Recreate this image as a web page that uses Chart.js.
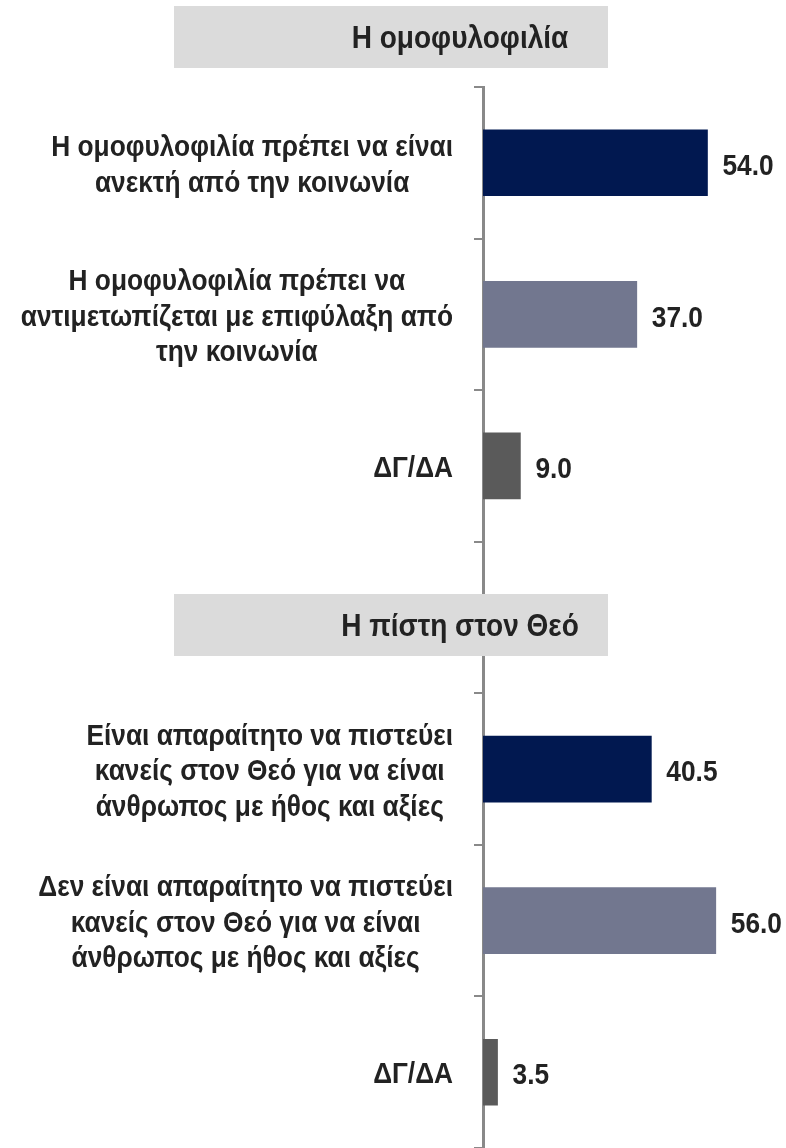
<!DOCTYPE html>
<html><head><meta charset="utf-8">
<script src="https://cdn.jsdelivr.net/npm/chart.js@4.4.0/dist/chart.umd.min.js"></script>
<style>html,body{margin:0;padding:0;background:#fff;}#wrap{position:relative;width:786px;height:1148px;}</style>
</head><body><div id="wrap"><canvas id="c" width="786" height="1148"></canvas></div>
<script>
const headers = ['Η ομοφυλοφιλία', 'Η πίστη στον Θεό'];
const categories = [
  ['Η ομοφυλοφιλία πρέπει να είναι', 'ανεκτή από την κοινωνία'],
  ['Η ομοφυλοφιλία πρέπει να', 'αντιμετωπίζεται με επιφύλαξη από', 'την κοινωνία'],
  ['ΔΓ/ΔΑ'],
  [''],
  ['Είναι απαραίτητο να πιστεύει', 'κανείς στον Θεό για να είναι', 'άνθρωπος με ήθος και αξίες'],
  ['Δεν είναι απαραίτητο να πιστεύει', 'κανείς στον Θεό για να είναι', 'άνθρωπος με ήθος και αξίες'],
  ['ΔΓ/ΔΑ']
];
const values = [54.0, 37.0, 9.0, null, 40.5, 56.0, 3.5];
const barColors = ['#011850', '#72778F', '#5A5A5A', '#FFFFFF', '#011850', '#72778F', '#5A5A5A'];

const FONT = '"Liberation Sans", Arial, sans-serif';
const SX = 0.876;
const TXT = '#222222';
const DY = 3;

function drawText(ctx, str, cx, cy, align, size) {
  ctx.save();
  ctx.font = 'bold ' + size + 'px ' + FONT;
  ctx.fillStyle = TXT;
  ctx.textBaseline = 'middle';
  ctx.textAlign = align;
  ctx.translate(cx, cy + DY);
  ctx.scale(SX, 1);
  ctx.fillText(str, 0, 0);
  ctx.restore();
}
function textW(ctx, str, size) {
  ctx.save();
  ctx.font = 'bold ' + size + 'px ' + FONT;
  const w = ctx.measureText(str).width * SX;
  ctx.restore();
  return w;
}

const textPlugin = {
  id: 'texts',
  afterDraw(chart) {
    const ctx = chart.ctx;
    const ys = chart.scales.y;
    const labelSize = 30, lineH = 35.5, right = 453;
    categories.forEach((lines, i) => {
      const cy = ys.getPixelForValue(i);
      const maxW = Math.max(...lines.map(l => textW(ctx, l, labelSize)));
      const cx = right - maxW / 2;
      lines.forEach((l, k) => {
        const yy = cy + (k - (lines.length - 1) / 2) * lineH;
        drawText(ctx, l, cx, yy, 'center', labelSize);
      });
    });
    const meta = chart.getDatasetMeta(0);
    values.forEach((v, i) => {
      if (v === null) return;
      const bar = meta.data[i];
      drawText(ctx, v.toFixed(1), bar.x + 15, bar.y + 1, 'left', 30);
    });
    const boxTops = [6, 594];
    headers.forEach((h, i) => {
      ctx.save();
      ctx.fillStyle = '#DBDBDB';
      ctx.fillRect(174, boxTops[i], 434, 62);
      ctx.restore();
      drawText(ctx, h, 460, boxTops[i] + 30, 'center', 32);
    });
  }
};

new Chart(document.getElementById('c'), {
  type: 'bar',
  data: {
    labels: categories.map(l => l.join(' ')),
    datasets: [{
      data: values,
      backgroundColor: barColors,
      barThickness: 66,
      borderWidth: 0
    }]
  },
  options: {
    indexAxis: 'y',
    responsive: false,
    animation: false,
    devicePixelRatio: 1,
    layout: { padding: { left: 474, right: 12, top: 87, bottom: 0 } },
    plugins: { legend: { display: false }, tooltip: { enabled: false } },
    scales: {
      x: { display: false, min: 0, max: 70 },
      y: {
        ticks: { display: false },
        grid: { drawOnChartArea: false, drawTicks: true, tickLength: 9, color: '#898989', lineWidth: 2 },
        border: { display: true, color: '#898989', width: 3 }
      }
    }
  },
  plugins: [textPlugin]
});
</script></body></html>
